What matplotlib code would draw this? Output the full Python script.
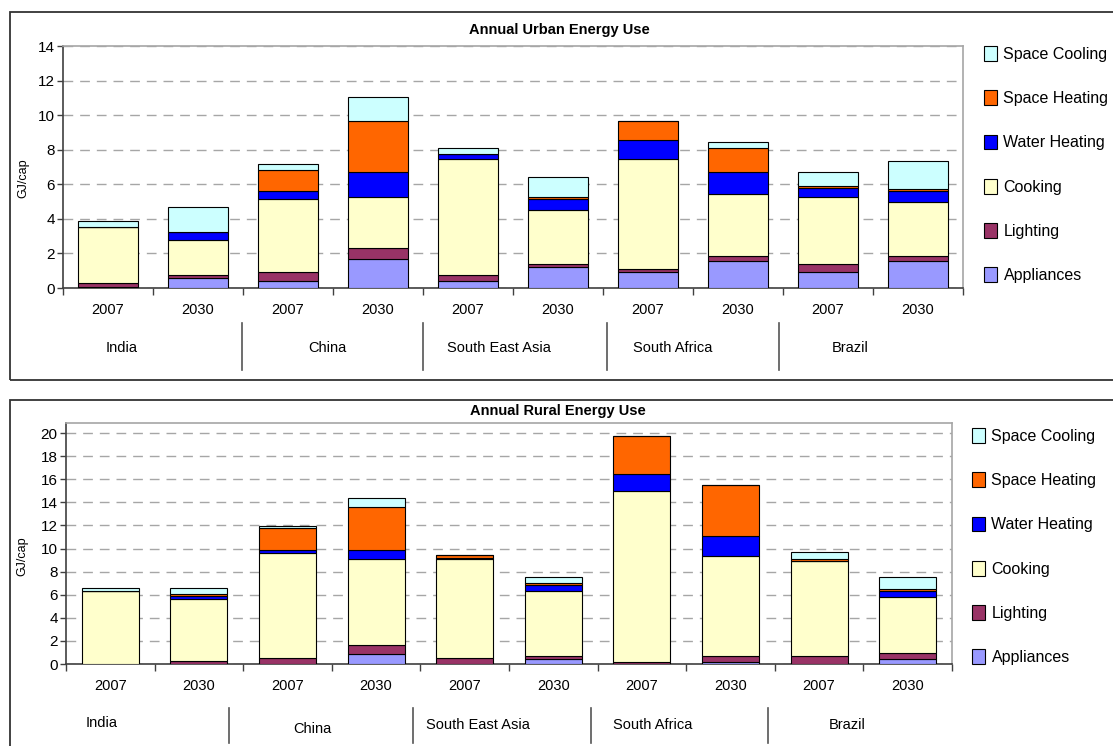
import numpy as np
import matplotlib
matplotlib.use("Agg")
import matplotlib.pyplot as plt
from matplotlib.patches import Rectangle

plt.rcParams['font.family'] = ['Liberation Sans', 'DejaVu Sans']

W, H = 1113, 746

years = ["2007", "2030"] * 5
countries = ["India", "China", "South East Asia", "South Africa", "Brazil"]
end_uses = ["Appliances", "Lighting", "Cooking", "Water Heating",
            "Space Heating", "Space Cooling"]
colors = ["#9999FF", "#993366", "#FFFFCC", "#0000FF", "#FF6600", "#CCFFFF"]

# urban energy use, GJ per capita
urban_appliances = [0.05, 0.58, 0.42, 1.68, 0.42, 1.20, 0.91, 1.54, 0.91, 1.54]
urban_lighting = [0.25, 0.19, 0.51, 0.63, 0.33, 0.19, 0.19, 0.31, 0.48, 0.31]
urban_cooking = [3.25, 2.03, 4.20, 2.97, 6.71, 3.12, 6.36, 3.59, 3.89, 3.12]
urban_water = [0.00, 0.46, 0.48, 1.41, 0.31, 0.64, 1.10, 1.25, 0.49, 0.64]
urban_heating = [0.00, 0.00, 1.24, 2.97, 0.00, 0.13, 1.10, 1.41, 0.11, 0.14]
urban_cooling = [0.35, 1.43, 0.32, 1.41, 0.33, 1.12, 0.00, 0.33, 0.83, 1.58]

# rural energy use, GJ per capita
rural_appliances = [0.00, 0.02, 0.00, 0.90, 0.00, 0.43, 0.00, 0.14, 0.00, 0.43]
rural_lighting = [0.02, 0.21, 0.49, 0.72, 0.49, 0.29, 0.20, 0.55, 0.69, 0.50]
rural_cooking = [6.26, 5.36, 9.09, 7.50, 8.63, 5.59, 14.82, 8.69, 8.20, 4.89]
rural_water = [0.02, 0.29, 0.29, 0.75, 0.03, 0.52, 1.42, 1.68, 0.02, 0.49]
rural_heating = [0.00, 0.22, 1.88, 3.76, 0.26, 0.20, 3.30, 4.45, 0.20, 0.20]
rural_cooling = [0.32, 0.50, 0.23, 0.73, 0.02, 0.47, 0.00, 0.00, 0.55, 0.99]


def px_rect(left, top, right, bottom):
    return [left / W, 1 - bottom / H, (right - left) / W, (bottom - top) / H]


def panel(fig, ax_px, box_px, series, ymax, yticks, title, title_xy,
          bar_width, sep_px, sep_y, label_px, label_y, legend_xy, ylabel_xy):
    # outer frame
    l, t, r, b = box_px
    fig.patches.append(Rectangle((l / W, 1 - b / H), (r - l) / W, (b - t) / H,
                                 transform=fig.transFigure, fill=False,
                                 edgecolor="#333333", lw=1.3, clip_on=False))

    ax = fig.add_axes(px_rect(*ax_px))
    x = np.arange(len(years))
    bottom = np.zeros(len(years))
    handles = []
    for name, vals, c in zip(end_uses, series, colors):
        vals = np.array(vals)
        bars = ax.bar(x, vals, bar_width, bottom=bottom, color=c,
                      edgecolor="black", linewidth=0.8, label=name, zorder=3)
        handles.append(bars)
        bottom += vals

    ax.set_xlim(-0.5, len(years) - 0.5)
    ax.set_ylim(0, ymax)
    ax.set_yticks(yticks)
    ax.set_yticklabels([str(v) for v in yticks], fontsize=11)
    ax.tick_params(axis="y", direction="out", length=4, width=1,
                   color="#404040", pad=2)
    ax.set_xticks(np.arange(-0.5, len(years)))
    ax.set_xticklabels([])
    ax.tick_params(axis="x", direction="out", length=5, width=1,
                   color="#404040")
    ax.yaxis.grid(True, linestyle=(0, (7, 5)), color="#a6a6a6", lw=1)
    ax.set_axisbelow(True)
    for s in ("left", "bottom"):
        ax.spines[s].set_color("#404040")
        ax.spines[s].set_linewidth(1.2)
    for s in ("top", "right"):
        ax.spines[s].set_color("#a6a6a6")
        ax.spines[s].set_linewidth(1.2)

    # year labels under each bar
    axb = ax_px[3]
    year_y = ax_px[3] + 22
    for i, yr in enumerate(years):
        ax.annotate(yr, xy=(i, 0), xycoords=("data", "axes fraction"),
                    xytext=(0, -(year_y - axb) * 0.72),
                    textcoords="offset points", ha="center", va="center",
                    fontsize=10.5)

    # country group labels and separators
    for xp in sep_px:
        fig.add_artist(plt.Line2D([xp / W, xp / W],
                                  [1 - sep_y[0] / H, 1 - sep_y[1] / H],
                                  color="#555555", lw=1.2))
    for name, xp, yp in zip(countries, label_px, label_y):
        fig.text(xp / W, 1 - yp / H, name, ha="center", va="center",
                 fontsize=10.5)

    fig.text(title_xy[0] / W, 1 - title_xy[1] / H, title, ha="center",
             va="center", fontsize=10.5, fontweight="bold")
    fig.text(ylabel_xy[0] / W, 1 - ylabel_xy[1] / H, "GJ/cap",
             rotation=90, ha="center", va="center", fontsize=9)

    fig.legend(handles[::-1], end_uses[::-1], loc="upper left",
               bbox_to_anchor=(legend_xy[0] / W, 1 - legend_xy[1] / H),
               frameon=False, fontsize=11.5, handlelength=0.8,
               handleheight=1.05, handletextpad=0.42, labelspacing=1.78,
               borderaxespad=0, borderpad=0)
    return ax


fig = plt.figure(figsize=(W / 100, H / 100), dpi=100)
fig.patch.set_facecolor("white")

panel(fig, (63, 46, 963, 288), (10, 12, 1125, 380),
      [urban_appliances, urban_lighting, urban_cooking, urban_water,
       urban_heating, urban_cooling],
      14, list(range(0, 15, 2)), "Annual Urban Energy Use", (559, 30), 0.667,
      [242, 423, 607, 779], (323, 370),
      [122, 327, 499, 673, 850], [348] * 5, (984, 46), (23, 178))

panel(fig, (66, 423, 952, 664), (10, 400, 1125, 760),
      [rural_appliances, rural_lighting, rural_cooking, rural_water,
       rural_heating, rural_cooling],
      20.87, list(range(0, 21, 2)), "Annual Rural Energy Use", (558, 411),
      0.643, [229, 413, 591, 768], (708, 743),
      [102, 312, 478, 653, 847], [723, 729, 725, 725, 725], (972, 428),
      (22, 556))

fig.savefig("out.png", dpi=100)
